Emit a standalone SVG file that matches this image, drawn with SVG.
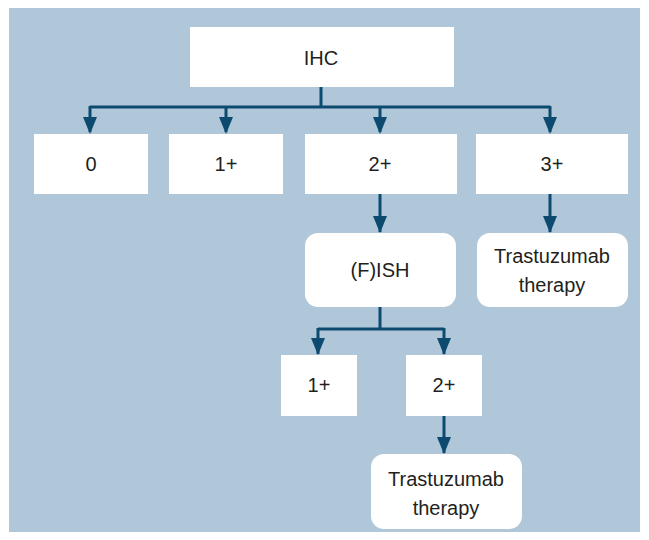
<svg xmlns="http://www.w3.org/2000/svg" width="649" height="540" viewBox="0 0 649 540">
<defs>
<marker id="ah" markerUnits="userSpaceOnUse" markerWidth="14" markerHeight="16" viewBox="0 0 14 16" refX="7" refY="16" orient="auto-start-reverse">
<path d="M0,0 L14,0 L7,16 Z" fill="#0d4a6f"/>
</marker>
<style>
.box{fill:#ffffff;}
.lbl{font-family:"Liberation Sans",Arial,sans-serif;font-size:20px;fill:#231f20;text-anchor:middle;}
.c{fill:none;stroke:#0d4a6f;stroke-width:3;}
.a{fill:none;stroke:#0d4a6f;stroke-width:3;}
</style>
</defs>
<rect x="0" y="0" width="649" height="540" fill="#ffffff"/>
<rect x="9" y="8" width="631" height="524" fill="#b0c7d9"/>
<g id="connectors">
<path class="c" d="M321,87 V107 M90,107 H550"/>
<path d="M90,106 V132" class="c"/>
<path d="M226,106 V132" class="c"/>
<path d="M380,106 V132" class="c"/>
<path d="M550,106 V132" class="c"/>
<path d="M380,194 V232" class="c"/>
<path d="M550,194 V232" class="c"/>
<path class="c" d="M380,307 V329 M318,329 H444"/>
<path d="M318,328 V354" class="c"/>
<path d="M444,328 V354" class="c"/>
<path d="M444,416 V453" class="c"/>
<g fill="#0d4a6f">
<polygon points="83,117 97,117 90,134"/>
<polygon points="219,117 233,117 226,134"/>
<polygon points="373,117 387,117 380,134"/>
<polygon points="543,117 557,117 550,134"/>
<polygon points="373,216 387,216 380,233"/>
<polygon points="543,216 557,216 550,233"/>
<polygon points="311,338 325,338 318,355"/>
<polygon points="437,338 451,338 444,355"/>
<polygon points="437,437 451,437 444,454"/>
</g>
</g>
<g id="ihc"><rect class="box" x="190" y="27" width="264" height="60"/><text class="lbl" x="321" y="65">IHC</text></g>
<g id="ihc0"><rect class="box" x="34" y="134" width="114" height="60"/><text class="lbl" x="91" y="171">0</text></g>
<g id="ihc1"><rect class="box" x="169" y="134" width="114" height="60"/><text class="lbl" x="226" y="171">1+</text></g>
<g id="ihc2"><rect class="box" x="305" y="134" width="152" height="60"/><text class="lbl" x="380" y="171">2+</text></g>
<g id="ihc3"><rect class="box" x="476" y="134" width="152" height="60"/><text class="lbl" x="552" y="171">3+</text></g>
<g id="fish"><rect class="box" x="305" y="233" width="151" height="74" rx="13"/><text class="lbl" x="380" y="277">(F)ISH</text></g>
<g id="therapy1"><rect class="box" x="477" y="233" width="151" height="74" rx="13"/><text class="lbl" x="552" y="263">Trastuzumab</text><text class="lbl" x="552" y="292">therapy</text></g>
<g id="fish1"><rect class="box" x="281" y="355" width="76" height="61"/><text class="lbl" x="319" y="392">1+</text></g>
<g id="fish2"><rect class="box" x="406" y="355" width="76" height="61"/><text class="lbl" x="444" y="392">2+</text></g>
<g id="therapy2"><rect class="box" x="371" y="454" width="151" height="75" rx="13"/><text class="lbl" x="446" y="486">Trastuzumab</text><text class="lbl" x="446" y="515">therapy</text></g>
</svg>
